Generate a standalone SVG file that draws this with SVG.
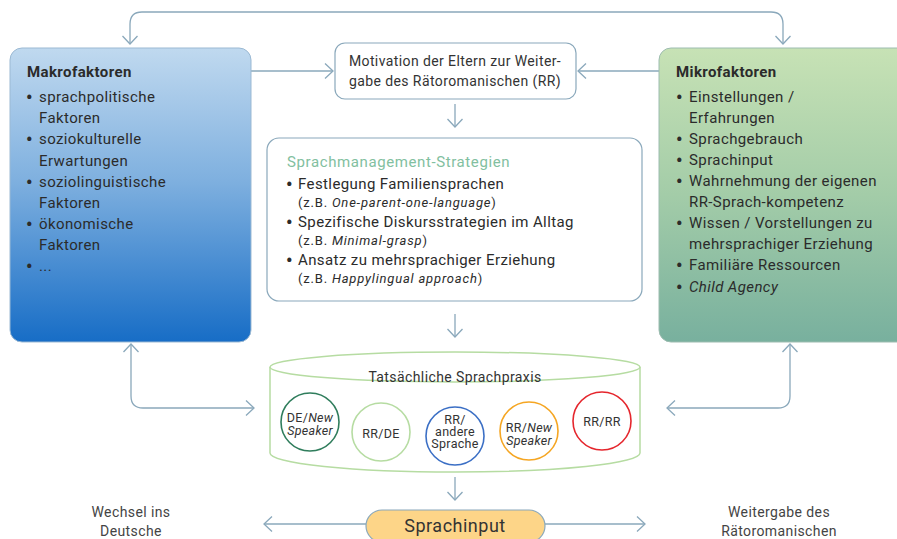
<svg xmlns="http://www.w3.org/2000/svg" width="897" height="539" viewBox="0 0 897 539">
<defs>
<linearGradient id="gMakro" x1="0" y1="0" x2="0" y2="1">
<stop offset="0" stop-color="#c0d9ef"/>
<stop offset="0.45" stop-color="#7fb0df"/>
<stop offset="1" stop-color="#176dc6"/>
</linearGradient>
<linearGradient id="gMikro" x1="0" y1="0" x2="0" y2="1">
<stop offset="0" stop-color="#c7e2b5"/>
<stop offset="0.5" stop-color="#a3cca8"/>
<stop offset="1" stop-color="#78b09e"/>
</linearGradient>
<marker id="arr" viewBox="0 0 10 16" refX="9" refY="8" markerWidth="10" markerHeight="16" markerUnits="userSpaceOnUse" orient="auto-start-reverse">
<path d="M1,0.5 L9,8 L1,15.5" fill="none" stroke="#8aa8bb" stroke-width="1.3"/>
</marker>
</defs>
<style>
text{font-family:Roboto,"Liberation Sans",sans-serif;fill:#2b2b2b}
.t{font-size:15px;letter-spacing:0.4px}
.b{font-size:18px;font-weight:bold}
.h{font-size:15px;font-weight:bold;letter-spacing:0.4px}
.s{font-size:14px;fill:#444;letter-spacing:0.4px}
.ex{font-size:13px;letter-spacing:0.8px}
.c{font-size:12.5px;text-anchor:middle;fill:#333;letter-spacing:0.3px}
.i{font-style:italic}
.con{fill:none;stroke:#8aa8bb;stroke-width:1.3}
</style>
<rect width="897" height="539" fill="#ffffff"/>
<g id="connectors">
<path class="con" d="M130,44 L130,24 Q130,12 142,12 L771,12 Q783,12 783,24 L783,44" marker-start="url(#arr)" marker-end="url(#arr)"/>
<path class="con" d="M251,71 L333,71" marker-end="url(#arr)"/>
<path class="con" d="M659,71 L578,71" marker-end="url(#arr)"/>
<path class="con" d="M455,104 L455,127" marker-end="url(#arr)"/>
<path class="con" d="M455,314 L455,337" marker-end="url(#arr)"/>
<path class="con" d="M131,344 L131,396 Q131,408 143,408 L254,408" marker-start="url(#arr)" marker-end="url(#arr)"/>
<path class="con" d="M790,344 L790,396 Q790,408 778,408 L667,408" marker-start="url(#arr)" marker-end="url(#arr)"/>
<path class="con" d="M455,477 L455,500" marker-end="url(#arr)"/>
<path class="con" d="M366,524 L264,524" marker-end="url(#arr)"/>
<path class="con" d="M545,524 L645,524" marker-end="url(#arr)"/>
</g>
<g id="makro">
<rect x="10" y="48" width="241" height="294" rx="12" fill="url(#gMakro)" stroke="#9bb9d3" stroke-width="1"/>
<text class="h" x="27" y="77">Makrofaktoren</text>
<text class="t" y="102"><tspan x="26" dy="2" class="b">•</tspan><tspan x="39" dy="-2">sprachpolitische</tspan></text>
<text class="t" x="39" y="123">Faktoren</text>
<text class="t" y="144"><tspan x="26" dy="2" class="b">•</tspan><tspan x="39" dy="-2">soziokulturelle</tspan></text>
<text class="t" x="39" y="166">Erwartungen</text>
<text class="t" y="187"><tspan x="26" dy="2" class="b">•</tspan><tspan x="39" dy="-2">soziolinguistische</tspan></text>
<text class="t" x="39" y="208">Faktoren</text>
<text class="t" y="229"><tspan x="26" dy="2" class="b">•</tspan><tspan x="39" dy="-2">ökonomische</tspan></text>
<text class="t" x="39" y="250">Faktoren</text>
<text class="t" y="271"><tspan x="26" dy="2" class="b">•</tspan><tspan x="39" dy="-2">...</tspan></text>
</g>
<g id="mikro">
<rect x="659" y="48" width="250" height="294" rx="12" fill="url(#gMikro)" stroke="#9dbcb0" stroke-width="1"/>
<text class="h" x="676" y="77">Mikrofaktoren</text>
<text class="t" y="102"><tspan x="676" dy="2" class="b">•</tspan><tspan x="689" dy="-2">Einstellungen /</tspan></text>
<text class="t" x="689" y="123">Erfahrungen</text>
<text class="t" y="144"><tspan x="676" dy="2" class="b">•</tspan><tspan x="689" dy="-2">Sprachgebrauch</tspan></text>
<text class="t" y="165"><tspan x="676" dy="2" class="b">•</tspan><tspan x="689" dy="-2">Sprachinput</tspan></text>
<text class="t" y="186"><tspan x="676" dy="2" class="b">•</tspan><tspan x="689" dy="-2">Wahrnehmung der eigenen</tspan></text>
<text class="t" x="689" y="207">RR-Sprach-kompetenz</text>
<text class="t" y="228"><tspan x="676" dy="2" class="b">•</tspan><tspan x="689" dy="-2">Wissen / Vorstellungen zu</tspan></text>
<text class="t" x="689" y="249">mehrsprachiger Erziehung</text>
<text class="t" y="270"><tspan x="676" dy="2" class="b">•</tspan><tspan x="689" dy="-2">Familiäre Ressourcen</tspan></text>
<text class="t" y="292"><tspan x="676" dy="2" class="b">•</tspan><tspan x="689" dy="-2" class="i">Child Agency</tspan></text>
</g>
<g id="motivation">
<rect x="335" y="43" width="241" height="56" rx="10" fill="#ffffff" stroke="#8aa8bb" stroke-width="1.2"/>
<text class="s" x="455" y="66" text-anchor="middle" style="fill:#333">Motivation der Eltern zur Weiter-</text>
<text class="s" x="455" y="86" text-anchor="middle" style="fill:#333">gabe des Rätoromanischen (RR)</text>
</g>
<g id="strategien">
<rect x="267" y="138" width="375" height="163" rx="12" fill="#ffffff" stroke="#8aa8bb" stroke-width="1.2"/>
<text x="287" y="167" style="font-size:15px;letter-spacing:0.6px;fill:#82c0a0">Sprachmanagement-Strategien</text>
<text class="t" y="189"><tspan x="286" dy="2" class="b">•</tspan><tspan x="298" dy="-2">Festlegung Familiensprachen</tspan></text>
<text class="ex" x="298" y="207">(z.B. <tspan class="i">One-parent-one-language</tspan>)</text>
<text class="t" y="227"><tspan x="286" dy="2" class="b">•</tspan><tspan x="298" dy="-2">Spezifische Diskursstrategien im Alltag</tspan></text>
<text class="ex" x="298" y="245">(z.B. <tspan class="i">Minimal-grasp</tspan>)</text>
<text class="t" y="265"><tspan x="286" dy="2" class="b">•</tspan><tspan x="298" dy="-2">Ansatz zu mehrsprachiger Erziehung</tspan></text>
<text class="ex" x="298" y="283">(z.B. <tspan class="i">Happylingual approach</tspan>)</text>
</g>
<g id="sprachpraxis">
<path d="M270,367 L270,453 A185,19 0 0 0 640,453 L640,367" fill="#ffffff" stroke="#b6dca2" stroke-width="1.5"/>
<ellipse cx="455" cy="367" rx="185" ry="15" fill="#ffffff" stroke="#b6dca2" stroke-width="1.5"/>
<text x="455" y="382" text-anchor="middle" style="font-size:14px;letter-spacing:0.4px;fill:#333">Tatsächliche Sprachpraxis</text>
</g>
<g id="c-de-new">
<circle cx="310" cy="422" r="29" fill="#ffffff" stroke="#2f7d5c" stroke-width="1.6"/>
<text class="c" x="310" y="422">DE/<tspan class="i">New</tspan></text>
<text class="c i" x="310" y="435">Speaker</text>
</g>
<g id="c-rr-de">
<circle cx="381" cy="432" r="29" fill="#ffffff" stroke="#b6dca2" stroke-width="1.6"/>
<text class="c" x="381" y="438">RR/DE</text>
</g>
<g id="c-rr-andere">
<circle cx="455" cy="436" r="29" fill="#ffffff" stroke="#3b6fc5" stroke-width="1.6"/>
<text class="c" x="455" y="424">RR/</text>
<text class="c" x="455" y="436">andere</text>
<text class="c" x="455" y="448">Sprache</text>
</g>
<g id="c-rr-new">
<circle cx="529" cy="431" r="29" fill="#ffffff" stroke="#f5a623" stroke-width="1.6"/>
<text class="c" x="529" y="432">RR/<tspan class="i">New</tspan></text>
<text class="c i" x="529" y="445">Speaker</text>
</g>
<g id="c-rr-rr">
<circle cx="602" cy="421" r="29" fill="#ffffff" stroke="#e5262d" stroke-width="1.6"/>
<text class="c" x="602" y="426">RR/RR</text>
</g>
<g id="sprachinput">
<rect x="366" y="510" width="179" height="32" rx="16" fill="#fdd588" stroke="#8aa8bb" stroke-width="1.2"/>
<text x="455" y="532" text-anchor="middle" style="font-size:18px;letter-spacing:0.5px;fill:#333">Sprachinput</text>
</g>
<g id="wechsel">
<text class="s" x="131" y="517" text-anchor="middle">Wechsel ins</text>
<text class="s" x="131" y="536" text-anchor="middle">Deutsche</text>
</g>
<g id="weitergabe">
<text class="s" x="779" y="517" text-anchor="middle">Weitergabe des</text>
<text class="s" x="779" y="536" text-anchor="middle">Rätoromanischen</text>
</g>
</svg>
